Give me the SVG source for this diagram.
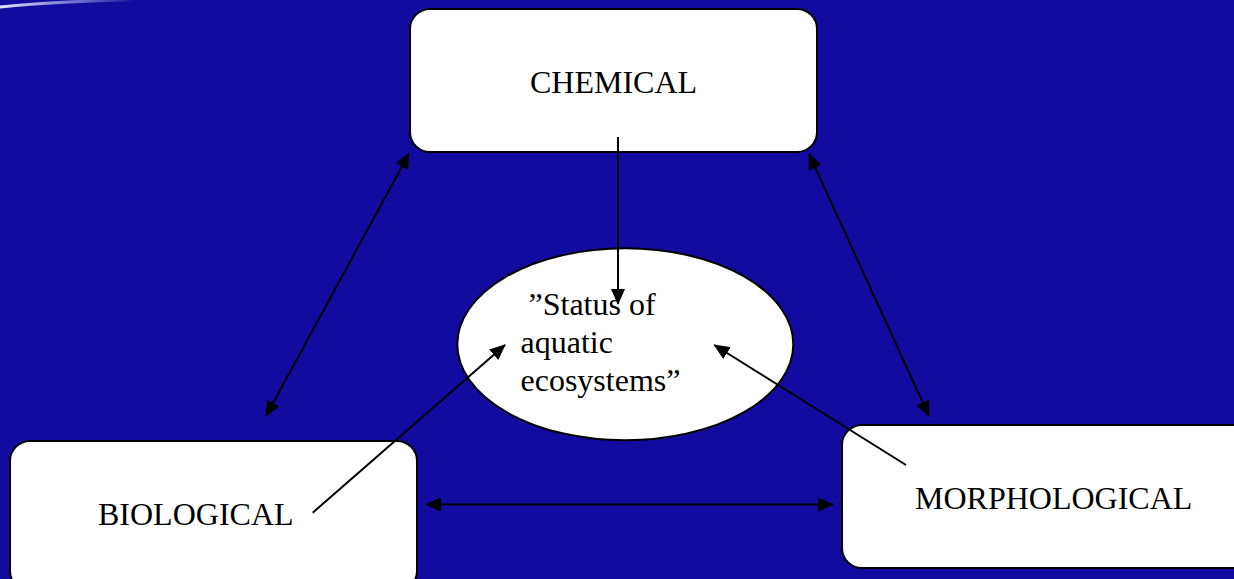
<svg xmlns="http://www.w3.org/2000/svg" width="1234" height="579" viewBox="0 0 1234 579">
  <defs>
    <style>
      .box { fill: #ffffff; stroke: #000000; stroke-width: 2; }
      .lbl { font-family: "Liberation Serif", "Times New Roman", serif; font-size: 32px; fill: #000000; }
      .conn { stroke: #000000; stroke-width: 2; fill: none; }
    </style>
    <marker id="ah" viewBox="0 0 16 14" refX="15" refY="7" markerWidth="16" markerHeight="14" markerUnits="userSpaceOnUse" orient="auto-start-reverse">
      <path d="M0,0 L16,7 L0,14 Z" fill="#000000"/>
    </marker>
    <linearGradient id="glare" x1="0" y1="0" x2="1" y2="0">
      <stop offset="0" stop-color="#ffffff" stop-opacity="0.9"/>
      <stop offset="0.6" stop-color="#c8c8ff" stop-opacity="0.5"/>
      <stop offset="1" stop-color="#ffffff" stop-opacity="0"/>
    </linearGradient>
  </defs>

  <rect x="0" y="0" width="1234" height="579" fill="#130A9F"/>
  <path d="M0,7 Q60,1 135,0" stroke="url(#glare)" stroke-width="3" fill="none"/>

  <g id="chemical">
    <rect class="box" x="410" y="9" width="407" height="143" rx="20" ry="20"/>
    <text class="lbl" x="530" y="93">CHEMICAL</text>
  </g>

  <g id="biological">
    <rect class="box" x="10" y="441" width="407" height="150" rx="20" ry="20"/>
    <text class="lbl" x="98" y="525">BIOLOGICAL</text>
  </g>

  <g id="morphological">
    <rect class="box" x="842" y="425" width="410" height="143" rx="20" ry="20"/>
    <text class="lbl" x="915" y="508.5">MORPHOLOGICAL</text>
  </g>

  <g id="status">
    <ellipse class="box" cx="625.3" cy="344.3" rx="168" ry="96"/>
    <text class="lbl" x="528.5" y="315">”Status of</text>
    <text class="lbl" x="520.5" y="353">aquatic</text>
    <text class="lbl" x="520.5" y="391">ecosystems”</text>
  </g>

  <g id="connectors">
    <line class="conn" x1="618" y1="137" x2="618" y2="304" marker-end="url(#ah)"/>
    <line class="conn" x1="266" y1="416" x2="409" y2="153.5" marker-start="url(#ah)" marker-end="url(#ah)"/>
    <line class="conn" x1="809" y1="154" x2="929" y2="416" marker-start="url(#ah)" marker-end="url(#ah)"/>
    <line class="conn" x1="312.7" y1="512.7" x2="505" y2="345" marker-end="url(#ah)"/>
    <line class="conn" x1="906" y1="465" x2="714.3" y2="345" marker-end="url(#ah)"/>
    <line class="conn" x1="426" y1="504.5" x2="833" y2="504.5" marker-start="url(#ah)" marker-end="url(#ah)"/>
  </g>
</svg>
